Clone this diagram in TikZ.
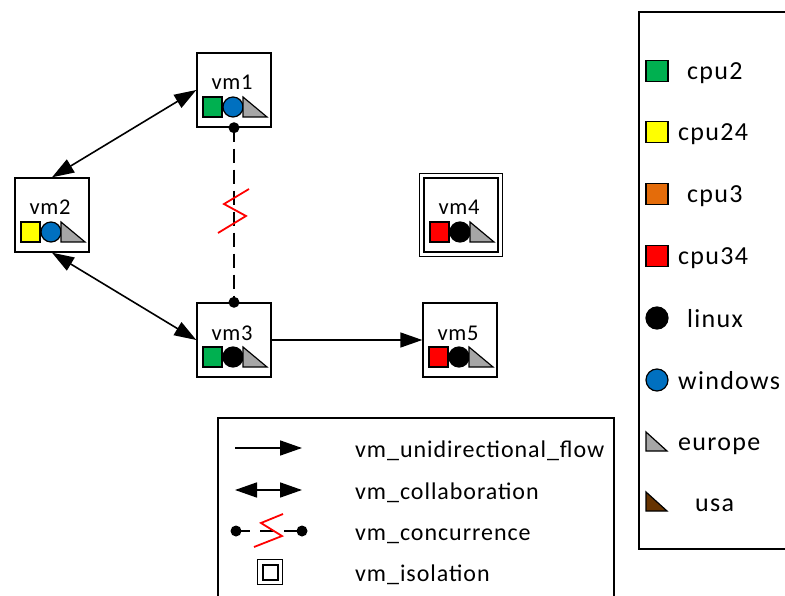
\documentclass[tikz,border=0pt]{standalone}
\usepackage{fontspec}
\setmainfont{Carlito}
\newfontfamily\legfont[LetterSpace=4]{Carlito}
\newfontfamily\keyfont[LetterSpace=5]{Carlito}
\newfontfamily\vmfont[LetterSpace=3]{Carlito}
\usetikzlibrary{arrows.meta,calc}
\definecolor{cgreen}{HTML}{00B050}
\definecolor{cyellow}{HTML}{FFFF00}
\definecolor{corange}{HTML}{E46C0A}
\definecolor{cred}{HTML}{FF0000}
\definecolor{cblue}{HTML}{0070C0}
\definecolor{cgray}{HTML}{A6A6A6}
\definecolor{cbrown}{HTML}{663300}
\begin{document}
\begin{tikzpicture}[x=1pt,y=-1pt,
  vmbox/.style={draw, line width=1.4pt, minimum size=74pt, inner sep=0pt},
  isobox/.style={draw, line width=1.2pt, minimum size=83pt, inner sep=0pt},
  vmlabel/.style={font=\vmfont\fontsize{22.5}{26}\selectfont, inner sep=0pt, anchor=base},
  icon/.style={draw=black, line width=1.2pt},
  flow/.style={line width=1.6pt, -{Triangle[length=22pt,width=15pt]}},
  collab/.style={line width=1.6pt, {Triangle[length=22pt,width=15pt]}-{Triangle[length=22pt,width=15pt]}},
  conc/.style={line width=1.6pt, dash pattern=on 14pt off 7pt},
  zig/.style={draw=cred, line width=1.8pt},
  legbox/.style={draw, line width=1.4pt},
  legtext/.style={font=\legfont\fontsize{24}{28}\selectfont, anchor=base west, inner sep=0pt},
  keytext/.style={font=\keyfont\fontsize{26}{30}\selectfont, anchor=base west, inner sep=0pt},
  keysq/.style={draw, line width=1.2pt, minimum width=22pt, minimum height=21pt, inner sep=0pt},
  keyci/.style={draw, circle, line width=1.2pt, minimum size=22pt, inner sep=0pt},
  pics/vmicons/.style n args={3}{code={
    \draw[icon, fill=#1] (-31,7) rectangle (-12,27);
    \draw[icon, fill=#2] (-1,17) circle[radius=10pt];
    \draw[icon, fill=#3] (9,7) -- (9,27) -- (33,27) -- cycle;
  }}
]
\useasboundingbox (0,0) rectangle (785,596);
\clip (0,0) rectangle (785,596);

% VM nodes
\node[vmbox] (vm1) at (234,90) {};
\node[vmbox] (vm2) at (52,215) {};
\node[vmbox] (vm3) at (234,340) {};
\node[vmbox] (vm4) at (461,215) {};
\node[isobox] (vm4o) at (461,215) {};
\node[vmbox] (vm5) at (460,340) {};

\node[vmlabel] (vm1l) at ([xshift=-2pt]vm1.center) {vm1};
\node[vmlabel] (vm2l) at ([xshift=-2pt]vm2.center) {vm2};
\node[vmlabel] (vm3l) at ([xshift=-2pt]vm3.center) {vm3};
\node[vmlabel] (vm4l) at ([xshift=-2pt]vm4.center) {vm4};
\node[vmlabel] (vm5l) at ([xshift=-2pt]vm5.center) {vm5};

\pic at (vm1.center) {vmicons={cgreen}{cblue}{cgray}};
\pic at (vm2.center) {vmicons={cyellow}{cblue}{cgray}};
\pic at (vm3.center) {vmicons={cgreen}{black}{cgray}};
\pic at (vm4.center) {vmicons={cred}{black}{cgray}};
\pic at (vm5.center) {vmicons={cred}{black}{cgray}};

% connectors
\draw[collab] (vm2.north) -- (vm1.west);
\draw[collab] (vm2.south) -- (vm3.west);
\draw[flow] (vm3.east) -- (vm5.west);
\draw[conc] (vm1.south) -- (vm3.north);
\fill (vm1.south) circle[radius=5.5pt];
\fill (vm3.north) circle[radius=5.5pt];
\coordinate (zc) at ($(vm1.south)!0.5!(vm3.north)$);
\draw[zig] ($(zc)+(15,-26)$) -- ($(zc)+(-10,-11)$) -- ($(zc)+(12,1)$) -- ($(zc)+(-16,18)$);

% bottom legend
\draw[legbox] (218,418) rectangle (614,620);
\coordinate (a1) at (235,448); \coordinate (a2) at (302,448);
\draw[flow] (a1) -- (a2);
\node[legtext] (t1) at (355,457) {vm\_unidirectional\_flow};
\coordinate (b1) at (235,490); \coordinate (b2) at (302,490);
\draw[collab] (b1) -- (b2);
\node[legtext] (t2) at (355,499) {vm\_collaboration};
\coordinate (c1) at (236,531); \coordinate (c2) at (302,531);
\draw[line width=1.6pt, dash pattern=on 14pt off 10pt] (c1) -- (c2);
\fill (c1) circle[radius=5.5pt];
\fill (c2) circle[radius=5.5pt];
\draw[zig] (283,514) -- (261,523) -- (282,536) -- (254,547);
\node[legtext] (t3) at (355,540) {vm\_concurrence};
\node[draw, line width=1.5pt, minimum size=25pt, inner sep=0pt] (iso1) at (270,572) {};
\node[draw, line width=2pt, minimum size=15pt, inner sep=0pt] (iso2) at (270,572) {};
\node[legtext] (t4) at (355,581) {vm\_isolation};

% right legend
\draw[legbox] (639,12) rectangle (800,549);
\node[keysq, fill=cgreen] (k1) at (657,71) {};
\node[keytext] (r1) at (687,80) {cpu2};
\node[keysq, fill=cyellow] (k2) at (657,132) {};
\node[keytext] (r2) at (678,141) {cpu24};
\node[keysq, fill=corange] (k3) at (657,194) {};
\node[keytext] (r3) at (687,203) {cpu3};
\node[keysq, fill=cred] (k4) at (657,256) {};
\node[keytext] (r4) at (678,265) {cpu34};
\node[keyci, fill=black] (k5) at (657,318) {};
\node[keytext] (r5) at (687,327) {linux};
\node[keyci, fill=cblue] (k6) at (657,380) {};
\node[keytext] (r6) at (678,389) {windows};
\draw[icon, fill=cgray] (646,432) -- (646,451) -- (667,451) -- cycle;
\node[keytext] (r7) at (678,450) {europe};
\draw[icon, fill=cbrown] (646,492) -- (646,511) -- (667,511) -- cycle;
\node[keytext] (r8) at (695,511) {usa};
\end{tikzpicture}
\end{document}
